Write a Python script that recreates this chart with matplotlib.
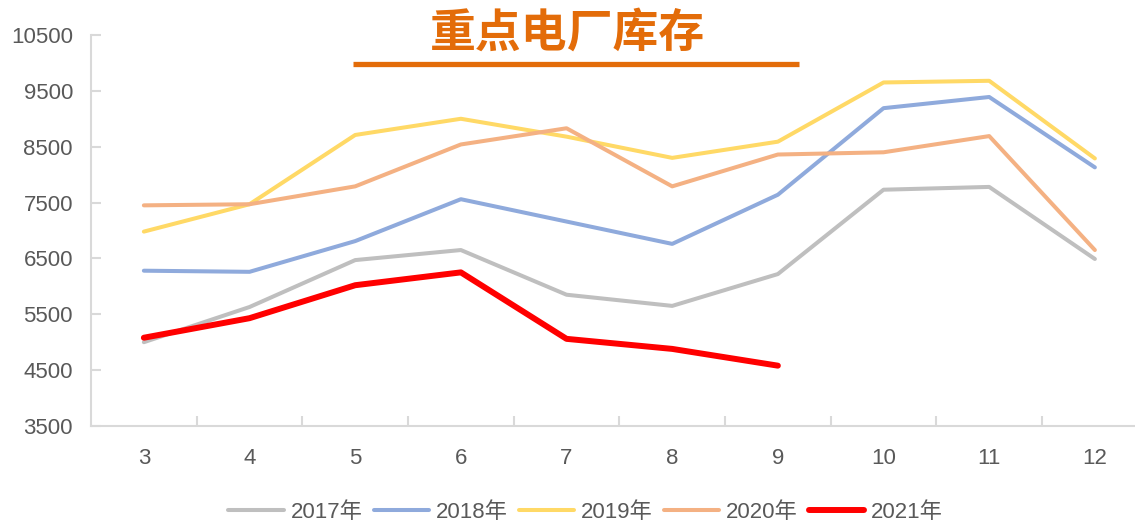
import matplotlib
matplotlib.use('Agg')
import matplotlib.pyplot as plt
from matplotlib.lines import Line2D

# months on the x axis
months = [3, 4, 5, 6, 7, 8, 9, 10, 11, 12]

# stock per year
y2017 = [5000, 5630, 6470, 6650, 5850, 5650, 6220, 7730, 7780, 6490]
y2018 = [6280, 6260, 6810, 7560, 7160, 6760, 7640, 9190, 9390, 8130]
y2019 = [6980, 7470, 8710, 9000, 8680, 8300, 8590, 9650, 9680, 8290]
y2020 = [7450, 7470, 7790, 8540, 8830, 7790, 8360, 8400, 8690, 6650]
y2021 = [5080, 5430, 6020, 6250, 5060, 4880, 4580]

labels = ['2017年', '2018年', '2019年', '2020年', '2021年']
colors = ['#BFBFBF', '#8FAADC', '#FFD966', '#F4B183', '#FF0000']

plt.rcParams['font.family'] = ['Liberation Sans', 'Noto Sans CJK SC']

fig = plt.figure(figsize=(11.35, 5.23), dpi=100)
ax = fig.add_axes([0.0802, 0.1855, 0.931, 0.7476])

series = [y2017, y2018, y2019, y2020, y2021]
for vals, lab, col in zip(series, labels, colors):
    lw = 4.3 if lab == '2021年' else 2.9
    ax.plot(months[:len(vals)], vals, color=col, lw=lw, label=lab,
            solid_joinstyle='round', solid_capstyle='round')

ax.set_xlim(2.5, 12.5)
ax.set_ylim(3500, 10500)
ax.set_yticks(range(3500, 10501, 1000))
ax.set_xticks(months)
ax.set_xticks([m + 0.5 for m in months], minor=True)

for side in ['top', 'right']:
    ax.spines[side].set_visible(False)
for side in ['left', 'bottom']:
    ax.spines[side].set_color('#D9D9D9')
    ax.spines[side].set_linewidth(1.5)

ax.tick_params(axis='x', which='major', length=0, pad=16, labelsize=16, labelcolor='#595959')
ax.tick_params(axis='x', which='minor', direction='in', length=7, width=1.5, color='#D9D9D9')
ax.tick_params(axis='y', direction='in', length=7, width=1.5, color='#D9D9D9',
               pad=13, labelsize=16, labelcolor='#595959')

# title with orange bar under it
fig.text(568 / 1135, 1 - 34 / 523, '重点电厂库存', fontsize=33, color='#E36C09',
         ha='center', va='center', family=['Noto Sans CJK SC'], fontweight='bold')
fig.add_artist(Line2D([353 / 1135, 799 / 1135], [1 - 63.5 / 523] * 2,
                      lw=3.8, color='#E36C09', solid_capstyle='butt'))

handles, labs = ax.get_legend_handles_labels()
fig.legend(handles, labs, loc='center', bbox_to_anchor=(0.516, 0.02), ncol=5,
           frameon=False, fontsize=16, labelcolor='#595959', handlelength=2.5,
           handletextpad=0.3, columnspacing=0.5, borderaxespad=0)

fig.savefig('out.png', dpi=100)
